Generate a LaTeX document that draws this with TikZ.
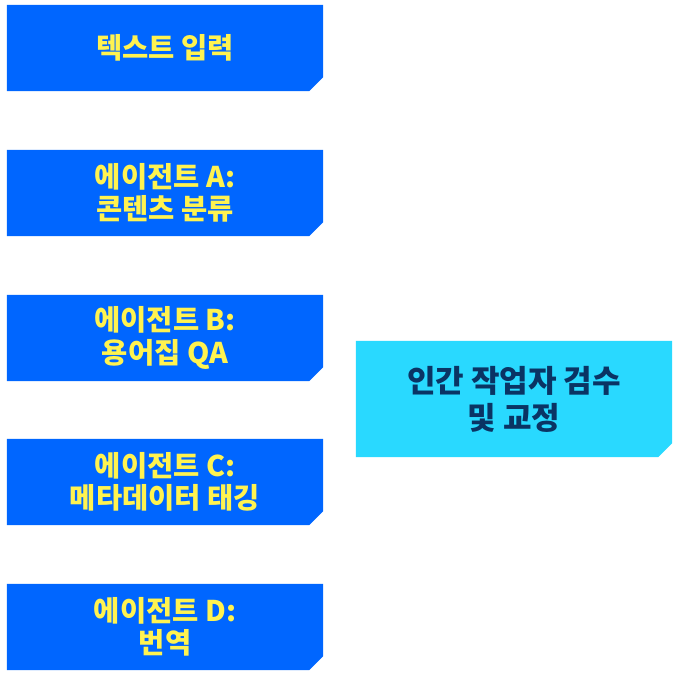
\documentclass[tikz,border=0pt]{standalone}
\usepackage{fontspec}
\setmainfont{Noto Sans CJK KR}
\usetikzlibrary{backgrounds}
\definecolor{agentblue}{RGB}{0,102,255}
\definecolor{humancyan}{RGB}{41,217,255}
\definecolor{ytext}{RGB}{255,243,80}
\definecolor{ntext}{RGB}{10,52,100}
\tikzset{
  agent/.style={minimum width=316pt,minimum height=86pt,inner sep=0pt,align=center,
    text=ytext,font=\bfseries\fontsize{28.5}{32.5}\selectfont},
  human/.style={minimum width=316pt,minimum height=116pt,inner sep=0pt,align=center,
    text=ntext,font=\bfseries\fontsize{31}{37}\selectfont},
}
\newcommand{\cutfill}[2]{%
  \fill[#2] (#1.north west) -- (#1.north east) -- ([yshift=14pt]#1.south east)
    -- ([xshift=-14pt]#1.south east) -- (#1.south west) -- cycle;}
\begin{document}
\begin{tikzpicture}[x=1pt,y=1pt]
\useasboundingbox (0,0) rectangle (679,-676);
\node[agent] (input) at (165,-48) {텍스트 입력};
\node[agent] (a) at (165,-193) {에이전트 A:\\콘텐츠 분류};
\node[agent] (b) at (165,-338) {에이전트 B:\\용어집 QA};
\node[agent] (c) at (165,-482) {에이전트 C:\\메타데이터 태깅};
\node[agent] (d) at (165,-627) {에이전트 D:\\번역};
\node[human] (h) at (514,-399) {인간 작업자 검수\\및 교정};
\begin{scope}[on background layer]
\cutfill{input}{agentblue}
\cutfill{a}{agentblue}
\cutfill{b}{agentblue}
\cutfill{c}{agentblue}
\cutfill{d}{agentblue}
\cutfill{h}{humancyan}
\end{scope}
\end{tikzpicture}
\end{document}
